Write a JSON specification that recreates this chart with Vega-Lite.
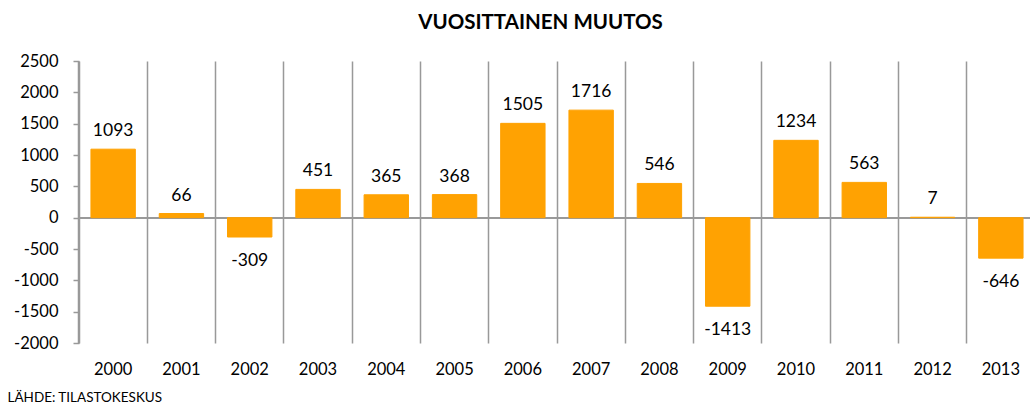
{
  "$schema": "https://vega.github.io/schema/vega-lite/v6.json",
  "autosize": "none",
  "width": 951,
  "height": 282,
  "padding": {"left": 79, "top": 61, "right": 0, "bottom": 63},
  "background": "white",
  "title": {
    "text": "VUOSITTAINEN MUUTOS",
    "font": "Lato",
    "fontSize": 20.5,
    "fontWeight": "bold",
    "color": "#000000",
    "anchor": "middle",
    "frame": "group",
    "baseline": "alphabetic",
    "dx": -14,
    "offset": 4
  },
  "config": {
    "view": {"stroke": null},
    "font": "Lato"
  },
  "data": {
    "values": [
      {"vuosi": "2000", "muutos": 1093},
      {"vuosi": "2001", "muutos": 66},
      {"vuosi": "2002", "muutos": -309},
      {"vuosi": "2003", "muutos": 451},
      {"vuosi": "2004", "muutos": 365},
      {"vuosi": "2005", "muutos": 368},
      {"vuosi": "2006", "muutos": 1505},
      {"vuosi": "2007", "muutos": 1716},
      {"vuosi": "2008", "muutos": 546},
      {"vuosi": "2009", "muutos": -1413},
      {"vuosi": "2010", "muutos": 1234},
      {"vuosi": "2011", "muutos": 563},
      {"vuosi": "2012", "muutos": 7},
      {"vuosi": "2013", "muutos": -646}
    ]
  },
  "encoding": {
    "x": {
      "field": "vuosi",
      "type": "nominal",
      "sort": null,
      "scale": {"paddingInner": 0, "paddingOuter": 0, "range": [0, 956]},
      "axis": {
        "orient": "bottom",
        "domain": false,
        "ticks": false,
        "grid": true,
        "gridColor": "#999999",
        "gridWidth": 1.5,
        "bandPosition": 0,
        "labelAngle": 0,
        "labelFont": "Lato",
        "labelFontSize": 16.5,
        "labelColor": "#000000",
        "labelPadding": 18,
        "title": "LÄHDE: TILASTOKESKUS",
        "titleFont": "Lato",
        "titleFontSize": 13.5,
        "titleFontWeight": "normal",
        "titleColor": "#000000",
        "titleAnchor": "start",
        "titleAlign": "left",
        "titleBaseline": "alphabetic",
        "titleX": -72,
        "titleY": 58
      }
    },
    "y": {
      "field": "muutos",
      "type": "quantitative",
      "scale": {"domain": [-2000, 2500], "nice": false, "zero": false},
      "axis": {
        "values": [-2000, -1500, -1000, -500, 0, 500, 1000, 1500, 2000, 2500],
        "labelExpr": "datum.value + ''",
        "grid": false,
        "domainColor": "#999999",
        "domainWidth": 1.5,
        "tickColor": "#999999",
        "tickWidth": 1.5,
        "tickSize": 6,
        "labelPadding": 15,
        "labelFont": "Lato",
        "labelFontSize": 16.5,
        "labelColor": "#000000",
        "title": null
      }
    }
  },
  "layer": [
    {
      "mark": {"type": "rule", "color": "#999999", "strokeWidth": 1.5},
      "encoding": {"y": {"datum": 0}, "x": null}
    },
    {
      "mark": {"type": "bar", "color": "#FFA202", "stroke": "#FFA202", "strokeWidth": 1, "width": {"band": 0.65}}
    },
    {
      "transform": [{"filter": "datum.muutos >= 0"}],
      "mark": {"type": "text", "font": "Lato", "fontSize": 17.5, "color": "#000000", "baseline": "alphabetic", "dy": -13},
      "encoding": {"text": {"field": "muutos", "type": "nominal"}}
    },
    {
      "transform": [{"filter": "datum.muutos < 0"}],
      "mark": {"type": "text", "font": "Lato", "fontSize": 17.5, "color": "#000000", "baseline": "alphabetic", "dy": 29},
      "encoding": {"text": {"field": "muutos", "type": "nominal"}}
    }
  ]
}
